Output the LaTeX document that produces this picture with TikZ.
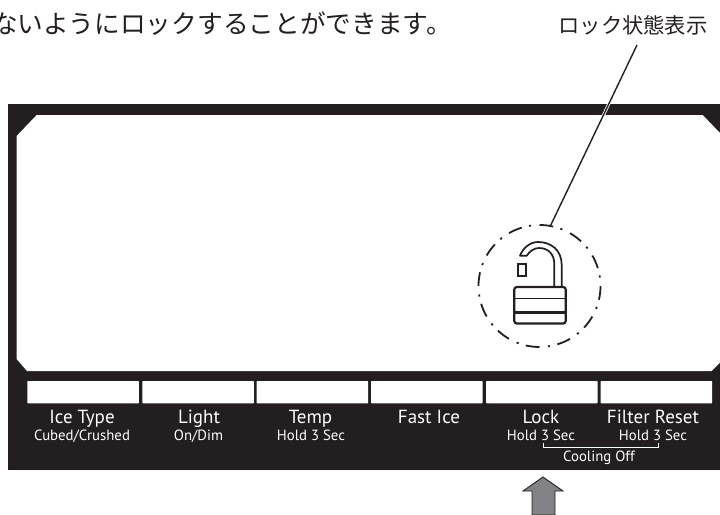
\documentclass[tikz,border=0pt]{standalone}
\usepackage{fontspec}
\setmainfont{PT Sans}
\newfontfamily\jp{Noto Sans CJK JP}
\definecolor{panel}{HTML}{231F20}
\definecolor{arrowgray}{HTML}{808285}
\tikzset{
  x=1pt,y=-1pt,
  key/.style={fill=white,rounded corners=0.6pt},
  lab/.style={inner sep=0pt,text=white,font=\fontsize{19}{20}\selectfont,anchor=base},
  sublab/.style={inner sep=0pt,text=white,font=\fontsize{14.8}{15}\selectfont,anchor=base},
  dashseg/.style={panel,line width=1.8pt},
}
\begin{document}
\begin{tikzpicture}
\useasboundingbox (0,0) rectangle (720,514);
\fill[white] (0,0) rectangle (720,514);
\node[inner sep=0pt,anchor=base east,text=panel,font=\jp\fontsize{25.7}{27}\selectfont] (top) at (452,33.5) {ないようにロックすることができます。};
\node[inner sep=0pt,anchor=base,text=panel,font=\jp\fontsize{21.3}{22}\selectfont] (status) at (633,33.5) {ロック状態表示};
\fill[panel] (8,104) rectangle (720,470);
\fill[white] (36.7,115) -- (702.7,115) -- (720,133) -- (720,362.7) -- (711.7,371) -- (27,371) -- (16.6,359) -- (16.6,136) -- cycle;
\foreach \x in {27.3,142.3,256.7,371,486,600.7}
  \fill[key] (\x,381) rectangle ++(111.5,22.3);
\node[lab] (l1) at (82,423) {Ice Type};
\node[sublab] (s1) at (82,440) {Cubed/Crushed};
\node[lab] (l2) at (199,423) {Light};
\node[sublab] (s2) at (198.5,440) {On/Dim};
\node[lab] (l3) at (310.5,423) {Temp};
\node[sublab] (s3) at (311,440) {Hold 3 Sec};
\node[lab] (l4) at (429,423) {Fast Ice};
\node[lab] (l5) at (541,423) {Lock};
\node[sublab] (s5) at (541,440) {Hold 3 Sec};
\node[lab] (l6) at (653,423) {Filter Reset};
\node[sublab] (s6) at (653,440) {Hold 3 Sec};
\node[sublab] (cool) at (599,461) {Cooling Off};
\draw[white,line width=1pt] (543,442.5) -- (543,447) -- (658,447) -- (658,442.5);
% arrow
\fill[arrowgray,draw=panel,line width=0.9pt] (543,477) -- (563,491) -- (555,491) -- (555,515) -- (532,515) -- (532,491) -- (523,491) -- cycle;
% leader and callout
\coordinate (lead) at (637,45);
\coordinate (circ) at (550,226.7);
\draw[white,line width=3pt] (lead) -- (circ);
\draw[panel,line width=1.4pt] (lead) -- (circ);
\coordinate (lockc) at (539.5,286);
\foreach \a in {0,30,...,330}{
  \draw[dashseg] (lockc) ++(\a:61) arc[start angle=\a,end angle=\a+13,radius=61];
  \draw[dashseg] (lockc) ++(\a+20:61) arc[start angle=\a+20,end angle=\a+22,radius=61];
}
% lock
\draw[panel,line width=2.2pt,rounded corners=2.5pt] (514.3,287) rectangle (565.7,323.5);
\draw[panel,line width=1.5pt] (514.3,298.5) -- (565.7,298.5);
\draw[panel,line width=3pt] (514.3,312.3) -- (565.7,312.3);
\draw[panel,line width=1.7pt,line join=round] (561.7,287) -- (561.7,265) .. controls (561.7,250) and (551,242) .. (538,242) .. controls (530,242) and (523,248) .. (520,255.7) -- (526.7,255.7) .. controls (530,251) and (534,248) .. (539,248) .. controls (548,248) and (554.3,254) .. (554.3,264) -- (554.3,287);
\draw[panel,line width=1.7pt] (518.3,264.3) rectangle (526,276);
\end{tikzpicture}
\end{document}
